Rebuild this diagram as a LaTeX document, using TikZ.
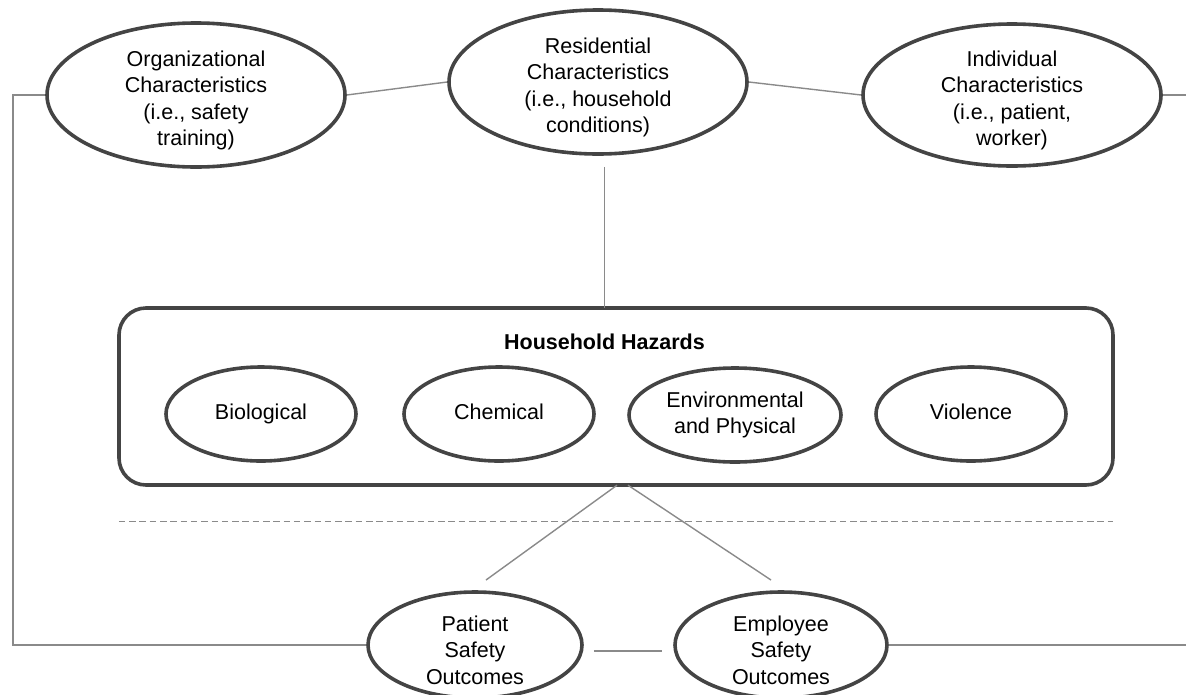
\documentclass[tikz,border=0pt]{standalone}
\usepackage{fontspec}
\setmainfont{Liberation Sans}
\usetikzlibrary{shapes.geometric}
\definecolor{edge}{HTML}{444444}
\definecolor{wire}{HTML}{8A8A8A}
\newcommand{\lowline}{\rule{0pt}{26pt}}
\tikzstyle{blob}=[ellipse,draw=edge,line width=3.6pt,inner sep=0pt,align=center,
  font=\fontsize{21.5}{26.5}\selectfont]
\tikzstyle{tall}=[inner ysep=-7pt]
\tikzstyle{link}=[draw=wire,line width=1.4pt]
\tikzstyle{title}=[inner sep=0pt,font=\fontsize{21.5}{26}\selectfont\bfseries]

\begin{document}
\begin{tikzpicture}[x=1pt,y=-1pt]
    \useasboundingbox (0,0) rectangle (1186,694);
    \draw [draw=edge,line width=3.6pt,rounded corners=27pt] (119,308) rectangle (1113,485);
    \node (box) at (616,396.5) [minimum width=994pt,minimum height=177pt] {};
    \node [title] (hh) at (604.5,342) {Household Hazards};
    \node [blob,tall,minimum width=298pt,minimum height=144pt] (org) at (196,95) {\lowline Organizational\\Characteristics\\(i.e., safety\\training)};
    \node [blob,tall,minimum width=298pt,minimum height=144pt] (res) at (598,82) {\lowline Residential\\Characteristics\\(i.e., household\\conditions)};
    \node [blob,tall,minimum width=298pt,minimum height=142pt] (ind) at (1012,95) {\lowline Individual\\Characteristics\\(i.e., patient,\\worker)};
    \node [blob,minimum width=190pt,minimum height=94pt] (bio) at (261,414) {Biological};
    \node [blob,minimum width=190pt,minimum height=94pt] (chem) at (499,414) {Chemical\vphantom{g}};
    \node [blob,minimum width=212pt,minimum height=94pt] (env) at (735,415) {Environmental\\and Physical};
    \node [blob,minimum width=190pt,minimum height=94pt] (viol) at (971,414) {Violence\vphantom{g}};
    \node [blob,tall,minimum width=214pt,minimum height=106pt] (pat) at (475,645) {\lowline Patient\\Safety\\Outcomes};
    \node [blob,tall,minimum width=212pt,minimum height=106pt] (emp) at (781,645) {\lowline Employee\\Safety\\Outcomes};
    \coordinate (rtop) at (1186,95);
    \coordinate (rbot) at (1186,645);
    \coordinate (lcorner) at (13,95);
    \coordinate (pend) at (486,580);
    \coordinate (eend) at (771,580);
    \draw [link] (org.east) -- (res.west);
    \draw [link] (res.east) -- (ind.west);
    \draw [link] (ind.east) -- (rtop);
    \draw [link] (org.west) -- (lcorner) |- (pat.west);
    \draw [link] (emp.east) -- (rbot);
    \draw [link] (res.south -| hh) ++(0,11) -- (box.north -| hh) ++(0,-12);
    \draw [link] ([xshift=1pt]box.south) -- (pend);
    \draw [link] ([xshift=12pt]box.south) -- (eend);
    \draw [link,shorten <=10pt,shorten >=11pt] ([yshift=-6pt]pat.east) -- ([yshift=-6pt]emp.west);
    \draw [draw=wire,line width=1.4pt,dash pattern=on 6.5pt off 3.8pt] (box.south west) ++(0,36) -- ++(994,0);
\end{tikzpicture}
\end{document}
